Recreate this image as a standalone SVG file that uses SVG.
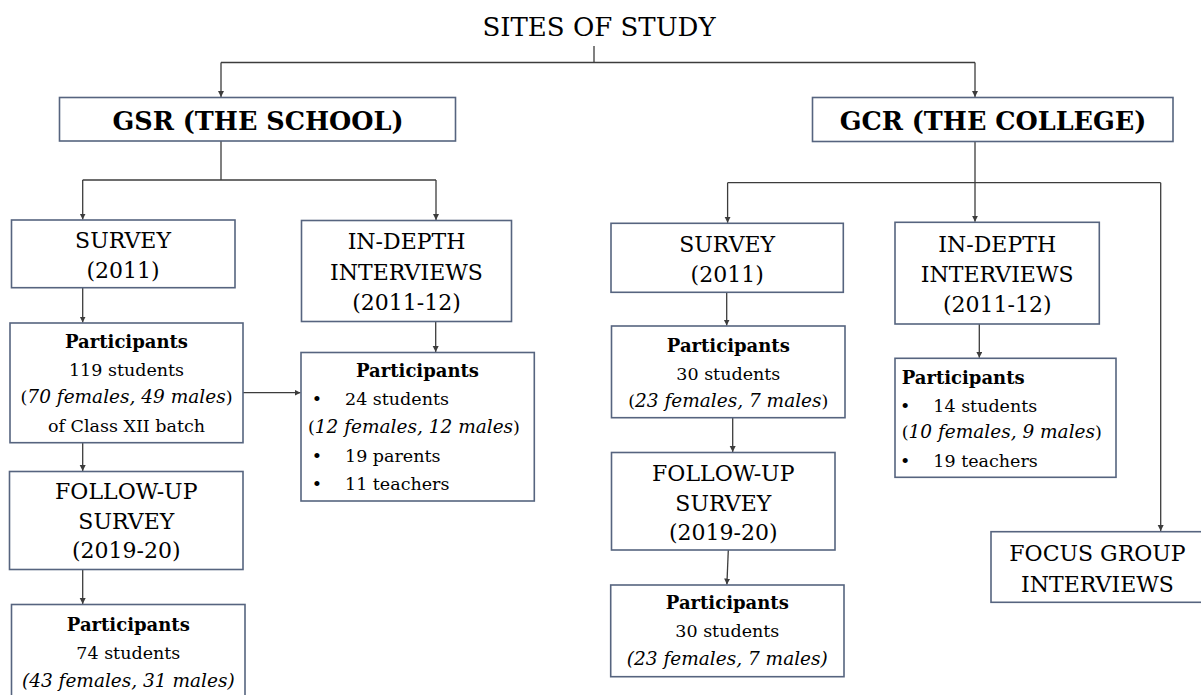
<svg xmlns="http://www.w3.org/2000/svg" width="1201" height="695" viewBox="0 0 1201 695">
<style>
.t{font-size:26px}
.h{font-size:25.5px;font-weight:bold;text-anchor:middle}
.c{font-size:22px;text-anchor:middle}
.b{font-size:17.5px}
.m{text-anchor:middle}
.bold{font-weight:bold;font-size:18px}
.i{font-style:italic;font-size:18.5px}
.box{fill:#fff;stroke:#56647f;stroke-width:1.6}
.ln{fill:none;stroke:#3c3c3c;stroke-width:1.3}
</style>
<defs>
<marker id="ah" markerUnits="userSpaceOnUse" markerWidth="7" markerHeight="7" refX="6" refY="3" orient="auto">
<path d="M0,0 L6,3 L0,6 z" fill="#3c3c3c"/>
</marker>
</defs>
<rect width="1201" height="695" fill="#fff"/>

<g id="connectors">
<path class="ln" d="M594,46 V62.5"/>
<path class="ln" d="M221,62.5 H975"/>
<path class="ln" d="M221,62.5 V97" marker-end="url(#ah)"/>
<path class="ln" d="M975,62.5 V97" marker-end="url(#ah)"/>
<path class="ln" d="M221,141 V180"/>
<path class="ln" d="M82.7,180 H436"/>
<path class="ln" d="M82.7,180 V219.5" marker-end="url(#ah)"/>
<path class="ln" d="M436,180 V220" marker-end="url(#ah)"/>
<path class="ln" d="M82.7,288 V322.5" marker-end="url(#ah)"/>
<path class="ln" d="M82.7,443 V471" marker-end="url(#ah)"/>
<path class="ln" d="M82.7,569.5 V604" marker-end="url(#ah)"/>
<path class="ln" d="M243,392.7 H300.5" marker-end="url(#ah)"/>
<path class="ln" d="M435.7,322 V352" marker-end="url(#ah)"/>
<path class="ln" d="M975,142 V221.8" marker-end="url(#ah)"/>
<path class="ln" d="M727.6,182.7 H1160.7"/>
<path class="ln" d="M727.6,182.7 V222.8" marker-end="url(#ah)"/>
<path class="ln" d="M1160.7,182.7 V531" marker-end="url(#ah)"/>
<path class="ln" d="M726.7,292.3 V325.5" marker-end="url(#ah)"/>
<path class="ln" d="M732.7,417.7 V452" marker-end="url(#ah)"/>
<path class="ln" d="M728.3,550 L726.9,584.5" marker-end="url(#ah)"/>
<path class="ln" d="M979.3,324 V357.8" marker-end="url(#ah)"/>
</g>

<g id="nodes" fill="#000" font-family="DejaVu Serif, serif">
<g id="title">
<text class="t m" x="599" y="36">SITES OF STUDY</text>
</g>

<g id="gsr">
<rect class="box" x="59.5" y="97.5" width="396" height="43.5"/>
<text class="h" x="258" y="130">GSR (THE SCHOOL)</text>
</g>

<g id="gcr">
<rect class="box" x="812.5" y="97.5" width="360.5" height="44"/>
<text class="h" x="993" y="130">GCR (THE COLLEGE)</text>
</g>

<g id="survey-school">
<rect class="box" x="11.5" y="220" width="223.5" height="67.7"/>
<text class="c" x="123" y="248.3">SURVEY</text>
<text class="c" x="123" y="277.7">(2011)</text>
</g>

<g id="interviews-school">
<rect class="box" x="301.5" y="220.5" width="210" height="101"/>
<text class="c" x="406.5" y="249.3">IN-DEPTH</text>
<text class="c" x="406.5" y="280">INTERVIEWS</text>
<text class="c" x="406.5" y="310">(2011-12)</text>
</g>

<g id="participants-school-survey">
<rect class="box" x="10" y="323" width="233" height="119.7"/>
<text class="b m bold" x="126.5" y="348.3">Participants</text>
<text class="b m" x="126.5" y="376">119 students</text>
<text class="b m" x="126.5" y="403.3">(<tspan class="i">70 females, 49 males</tspan>)</text>
<text class="b m" x="126.5" y="431.7">of Class XII batch</text>
</g>

<g id="participants-school-interviews">
<rect class="box" x="301" y="352.5" width="233.3" height="148.5"/>
<text class="b m bold" x="417.5" y="376.7">Participants</text>
<text class="b" x="311.7" y="405">•</text>
<text class="b" x="345" y="405">24 students</text>
<text class="b" x="308" y="432.7">(<tspan class="i">12 females, 12 males</tspan>)</text>
<text class="b" x="311.7" y="461.7">•</text>
<text class="b" x="345" y="461.7">19 parents</text>
<text class="b" x="311.7" y="489.5">•</text>
<text class="b" x="345" y="489.5">11 teachers</text>
</g>

<g id="followup-school">
<rect class="box" x="9.5" y="471.5" width="233.5" height="98"/>
<text class="c" x="126.3" y="499.3">FOLLOW-UP</text>
<text class="c" x="126.3" y="529.3">SURVEY</text>
<text class="c" x="126.3" y="558">(2019-20)</text>
</g>

<g id="participants-school-followup">
<rect class="box" x="11.5" y="604.5" width="233.5" height="100"/>
<text class="b m bold" x="128.3" y="630.7">Participants</text>
<text class="b m" x="128.3" y="659.3">74 students</text>
<text class="b m i" x="128.3" y="686.7">(43 females, 31 males)</text>
</g>

<g id="survey-college">
<rect class="box" x="611" y="223.3" width="232.3" height="69"/>
<text class="c" x="727.2" y="251.7">SURVEY</text>
<text class="c" x="727.2" y="281.7">(2011)</text>
</g>

<g id="participants-college-survey">
<rect class="box" x="611.5" y="326" width="233.5" height="91.7"/>
<text class="b m bold" x="728.3" y="351.7">Participants</text>
<text class="b m" x="728.3" y="380">30 students</text>
<text class="b m" x="728.3" y="407.3">(<tspan class="i">23 females, 7 males</tspan>)</text>
</g>

<g id="followup-college">
<rect class="box" x="611.5" y="452.5" width="223.5" height="97.5"/>
<text class="c" x="723.3" y="480.7">FOLLOW-UP</text>
<text class="c" x="723.3" y="510.7">SURVEY</text>
<text class="c" x="723.3" y="540">(2019-20)</text>
</g>

<g id="participants-college-followup">
<rect class="box" x="610.7" y="585" width="233.3" height="91.7"/>
<text class="b m bold" x="727.3" y="609.3">Participants</text>
<text class="b m" x="727.3" y="637.3">30 students</text>
<text class="b m i" x="727.3" y="665">(23 females, 7 males)</text>
</g>

<g id="interviews-college">
<rect class="box" x="895" y="222.3" width="204.3" height="101.7"/>
<text class="c" x="997.2" y="251.7">IN-DEPTH</text>
<text class="c" x="997.2" y="281.7">INTERVIEWS</text>
<text class="c" x="997.2" y="311.7">(2011-12)</text>
</g>

<g id="participants-college-interviews">
<rect class="box" x="895" y="358.3" width="221" height="119"/>
<text class="b bold" x="901.7" y="384">Participants</text>
<text class="b" x="900" y="411.7">•</text>
<text class="b" x="933.3" y="411.7">14 students</text>
<text class="b" x="901.7" y="438.3">(<tspan class="i">10 females, 9 males</tspan>)</text>
<text class="b" x="900" y="466.7">•</text>
<text class="b" x="933.3" y="466.7">19 teachers</text>
</g>

<g id="focus-group">
<rect class="box" x="991" y="531.7" width="215" height="70.6"/>
<text class="c" x="1097.5" y="560.7">FOCUS GROUP</text>
<text class="c" x="1097.5" y="591.7">INTERVIEWS</text>
</g>
</g>
</svg>
